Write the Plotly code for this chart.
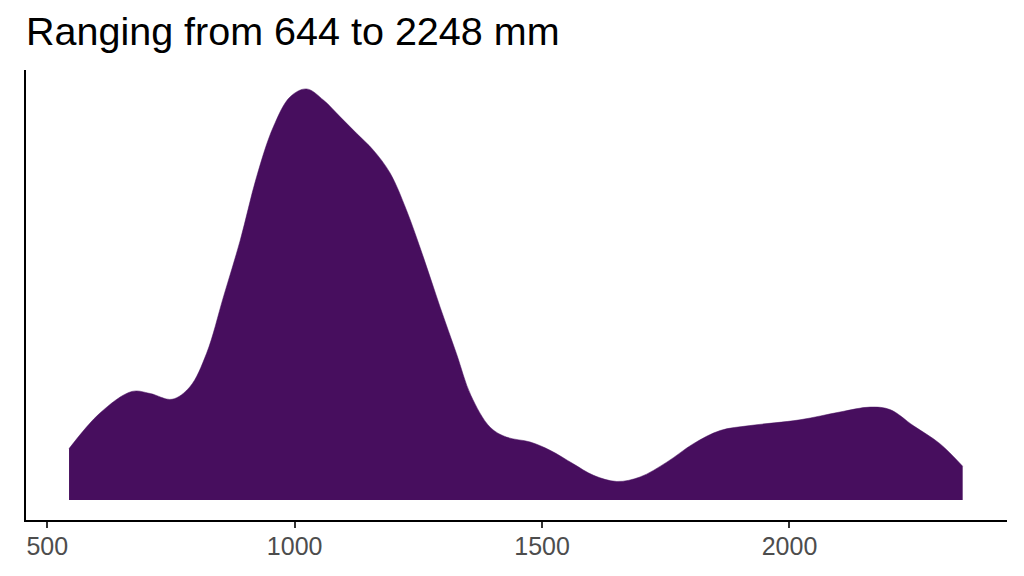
import plotly.graph_objects as go

# Estimated density curve (x in mm, relative density height)
rain_mm = [544, 606, 671, 708, 752, 788, 822, 856, 890, 923, 957, 991, 1024,
           1058, 1092, 1125, 1159, 1193, 1226, 1260, 1294, 1327, 1356, 1395,
           1428, 1476, 1516, 1563, 1604, 1651, 1698, 1752, 1806, 1860, 1920,
           2021, 2102, 2163, 2203, 2250, 2304, 2350]
density = [0.125, 0.211, 0.264, 0.259, 0.245, 0.275, 0.357, 0.494, 0.632,
           0.786, 0.908, 0.981, 1.000, 0.973, 0.932, 0.892, 0.851, 0.795,
           0.705, 0.591, 0.469, 0.356, 0.255, 0.177, 0.153, 0.141, 0.121,
           0.088, 0.060, 0.045, 0.056, 0.092, 0.137, 0.169, 0.181, 0.195,
           0.214, 0.226, 0.220, 0.181, 0.137, 0.082]
tick_vals = [500, 1000, 1500, 2000]
tick_text = ["500", "1000", "1500", "2000"]
title_text = "Ranging from 644 to 2248 mm"

fill_color = "#470E5E"

fig = go.Figure()
fig.add_trace(go.Scatter(
    x=rain_mm, y=density, mode="lines", fill="tozeroy",
    line=dict(color=fill_color, width=0.5, shape="spline", smoothing=1.0),
    fillcolor=fill_color, hoverinfo="skip", showlegend=False,
))

fig.update_layout(
    width=1024, height=576,
    margin=dict(l=18, r=25, t=62, b=64),
    paper_bgcolor="white", plot_bgcolor="white",
    font=dict(family="Liberation Sans, Arial, sans-serif"),
    title=dict(text=title_text, x=18 / 1024, xref="container", xanchor="left",
               y=1 - 23 / 576, yref="container", yanchor="middle",
               font=dict(size=39.5, color="black")),
    xaxis=dict(range=[457, 2439.6], tickvals=tick_vals, ticktext=tick_text,
               showgrid=False, zeroline=False, showline=True,
               linecolor="black", linewidth=2, ticks="outside",
               ticklen=6, tickwidth=2, tickcolor="#333333",
               ticklabelstandoff=-3,
               tickfont=dict(size=25, color="#4D4D4D")),
    yaxis=dict(range=[-0.0487, 1.046], showgrid=False, zeroline=False,
               showline=True, linecolor="black", linewidth=2,
               showticklabels=False, ticks=""),
)

fig.write_html("out.html")
